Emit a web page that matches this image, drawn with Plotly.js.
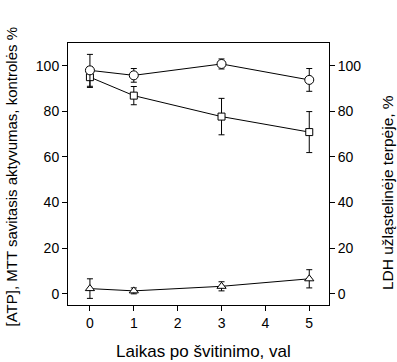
<!DOCTYPE html>
<html><head><meta charset="utf-8">
<script src="https://cdn.plot.ly/plotly-3.0.1.min.js"></script>
<style>html,body{margin:0;padding:0;background:#fff}#chart{width:397px;height:362px}</style>
</head><body><div id="chart"></div>
<script>
const hours = [0, 1, 3, 5];
const atp = [98, 95.8, 100.8, 93.8];
const atpErr = [7, 3, 2.2, 5];
const mtt = [95, 86.9, 77.7, 70.9];
const mttErr = [4.5, 4, 8, 9];
const ldh = [2.2, 1.2, 3.2, 6.5];
const ldhErr = [4.3, 1.3, 2, 4];
const xTicks = [0, 1, 2, 3, 4, 5];
const yTicks = [0, 20, 40, 60, 80, 100];

const fam = 'Liberation Sans, Arial, sans-serif';
const font = {family: fam, size: 14, color: '#000'};
function trace(y, err, symbol, size, yaxis) {
  return {
    x: hours, y: y, yaxis: yaxis, type: 'scatter', mode: 'lines+markers',
    line: {color: '#000', width: 1},
    marker: {symbol: symbol, size: size, color: '#fff', line: {color: '#000', width: 1}},
    error_y: {type: 'data', array: err, visible: true, color: '#000', thickness: 1, width: 3},
    showlegend: false, cliponaxis: false
  };
}
const data = [
  trace(ldh, ldhErr, 'triangle-up', 8, 'y2'),
  trace(mtt, mttErr, 'square', 7, 'y'),
  trace(atp, atpErr, 'circle', 9, 'y')
];
const yrange = [-5, 110];
const layout = {
  width: 397, height: 362,
  margin: {l: 68, r: 68, t: 43, b: 57},
  paper_bgcolor: '#fff', plot_bgcolor: '#fff',
  font: font,
  xaxis: {range: [-0.5, 5.45], tickvals: xTicks, ticks: 'outside', ticklen: 5, tickcolor: '#000',
    showline: true, linecolor: '#000', linewidth: 1, mirror: true, showgrid: false, zeroline: false,
    tickfont: font},
  yaxis: {range: yrange, tickvals: yTicks, ticks: 'outside', ticklen: 5, tickcolor: '#000',
    showline: true, linecolor: '#000', linewidth: 1, mirror: true, showgrid: false, zeroline: false,
    tickfont: font},
  yaxis2: {range: yrange, tickvals: yTicks, ticks: 'outside', ticklen: 5, tickcolor: '#000',
    overlaying: 'y', side: 'right', showline: true, linecolor: '#000', linewidth: 1,
    showgrid: false, zeroline: false, tickfont: font},
  annotations: [
    {text: 'Laikas po švitinimo, val', xref: 'paper', yref: 'paper', x: 0.52, y: -0.135,
      xanchor: 'center', yanchor: 'top', showarrow: false, font: {family: fam, size: 17, color: '#000'}},
    {text: '[ATP], MTT savitasis aktyvumas, kontrolės %', xref: 'paper', yref: 'paper',
      x: -0.215, y: 0.49, xanchor: 'center', yanchor: 'middle', textangle: -90, showarrow: false,
      font: {family: fam, size: 15, color: '#000'}},
    {text: 'LDH užląstelinėje terpėje, %', xref: 'paper', yref: 'paper',
      x: 1.225, y: 0.43, xanchor: 'center', yanchor: 'middle', textangle: -90, showarrow: false,
      font: {family: fam, size: 15.5, color: '#000'}}
  ]
};
Plotly.newPlot('chart', data, layout, {displayModeBar: false, staticPlot: true});
</script></body></html>
